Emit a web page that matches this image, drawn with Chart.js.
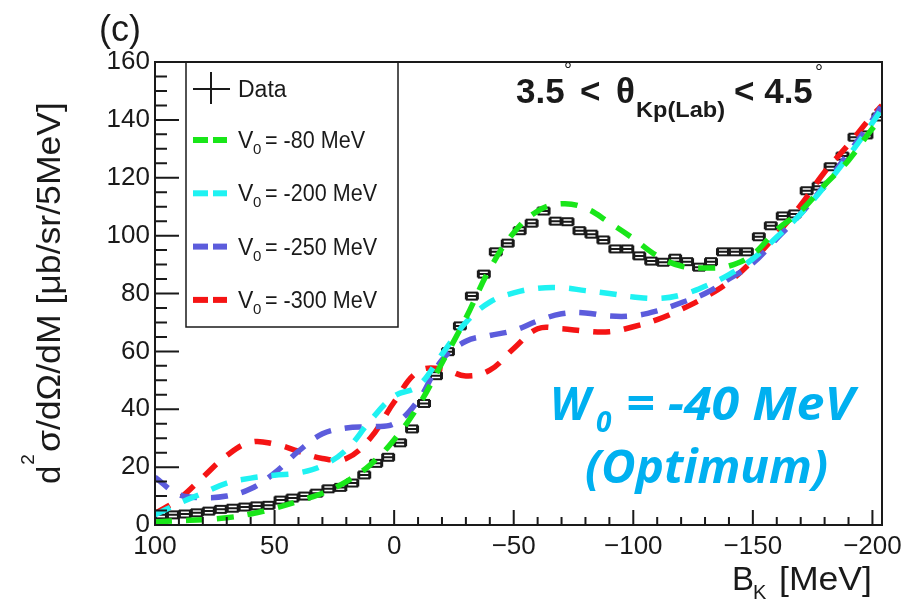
<!DOCTYPE html>
<html>
<head>
<meta charset="utf-8">
<script src="https://cdn.jsdelivr.net/npm/chart.js@4.4.1/dist/chart.umd.min.js"></script>
<style>
  html, body { margin: 0; padding: 0; background: #fff; }
  #wrap { width: 915px; height: 601px; position: relative; }
</style>
</head>
<body>
<div id="wrap"><canvas id="myChart" width="915" height="601"></canvas></div>
<script>
// tick labels
const xTicks = [100, 50, 0, -50, -100, -150, -200];
const yTicks = [0, 20, 40, 60, 80, 100, 120, 140, 160];

// data points (B_K bin centres, 5 MeV bins)
const dataX = [97.5, 92.5, 87.5, 82.5, 77.5, 72.5, 67.5, 62.5, 57.5, 52.5,
  47.5, 42.5, 37.5, 32.5, 27.5, 22.5, 17.5, 12.5, 7.5, 2.5,
  -2.5, -7.5, -12.5, -17.5, -22.5, -27.5, -32.5, -37.5, -42.5, -47.5,
  -52.5, -57.5, -62.5, -67.5, -72.5, -77.5, -82.5, -87.5, -92.5, -97.5,
  -102.5, -107.5, -112.5, -117.5, -122.5, -127.5, -132.5, -137.5, -142.5, -147.5,
  -152.5, -157.5, -162.5, -167.5, -172.5, -177.5, -182.5, -187.5, -192.5, -197.5, -202.5];
const dataY = [3.5, 3.5, 3.8, 4.2, 4.8, 5.4, 5.8, 6.2, 6.6, 6.8,
  8.6, 9.3, 10.0, 11.0, 12.5, 13.0, 14.5, 17.3, 21.3, 23.4,
  28.4, 33.2, 42.0, 51.6, 59.9, 68.8, 79.1, 86.7, 94.4, 97.4,
  101.7, 104.3, 108.5, 105.0, 104.8, 101.7, 100.5, 98.5, 95.4, 95.4,
  93.0, 91.2, 90.8, 92.2, 91.0, 89.1, 91.0, 94.4, 94.4, 94.4,
  99.6, 103.4, 106.8, 107.5, 115.5, 117.1, 123.8, 127.5, 134.0, 134.8, 141.0];

// model curves
const modelX = [100, 90, 80, 70, 60, 50, 40, 30, 20, 10, 0, -10, -20, -30, -40, -50,
  -60, -70, -80, -90, -100, -110, -120, -130, -140, -150, -160, -170, -180, -190, -200, -204];
const v80 = [1.0, 1.5, 1.8, 2.5, 3.8, 5.8, 8.2, 11.0, 15.0, 20.8, 29.5, 41, 56, 71.5, 88.5, 101,
  108.5, 111, 109.5, 104.5, 99, 93, 89.5, 88.8, 89.5, 93.5, 102, 108.5, 117.5, 126, 137, 140.5];
const v200 = [3.5, 7.5, 11.0, 14.5, 16.2, 17.2, 18.0, 20.5, 26, 36, 44.5, 48, 59, 70, 77, 80.2,
  81.8, 82, 81, 80, 78.8, 78.3, 79.5, 82.5, 86.5, 92, 99.5, 107.5, 117, 127.5, 139, 144];
const v250 = [16.5, 10.5, 9.5, 10.0, 12.5, 18, 25.5, 31.5, 33.5, 34, 35, 43, 57, 63.5, 65.5, 67.2,
  70.5, 73, 73.3, 72.2, 72.3, 74, 76.8, 80, 85, 90.5, 99, 107.5, 117.5, 128.5, 140, 145];
const v300 = [4, 9, 16.5, 24, 28.6, 28, 25.5, 23, 23, 30, 42.5, 53, 54, 51.5, 53.5, 61,
  67.8, 67.8, 67, 66.8, 68.5, 71, 74.5, 78.7, 84, 91.5, 100.5, 110.5, 122, 131.5, 141.5, 145];

const modelNames = ['-80', '-200', '-250', '-300'];
const modelColors = ['#19e619', '#1ff2f2', '#5c5cdc', '#f51414'];
const modelValues = [v80, v200, v250, v300];

const ink = '#1a1a1a';
const sans = '"Liberation Sans", Arial, sans-serif';
const note = '"Open Sans", sans-serif';

function toPoints(xs, ys) {
  return xs.map((x, i) => ({ x: x, y: ys[i] }));
}

const datasets = [{
  label: 'Data',
  data: toPoints(dataX, dataY),
  showLine: false,
  pointRadius: 0,
  borderColor: ink
}];
modelValues.forEach((vals, k) => {
  datasets.push({
    label: 'V0 = ' + modelNames[k] + ' MeV',
    data: toPoints(modelX, vals),
    showLine: true,
    borderColor: modelColors[k],
    borderWidth: 5.5,
    borderDash: [17, 14],
    pointRadius: 0,
    tension: 0.4,
    fill: false
  });
});

// text squeezed or stretched to a given width
function fitText(ctx, text, x, y, width) {
  const w = ctx.measureText(text).width;
  ctx.save();
  ctx.translate(x, y);
  ctx.scale(width / w, 1);
  ctx.fillText(text, 0, 0);
  ctx.restore();
}

// data markers: bin-width bar with caps and a small box, drawn under the curves
const dataMarks = {
  id: 'dataMarks',
  beforeDatasetsDraw(chart) {
    const { ctx, chartArea: a, scales: { x, y } } = chart;
    ctx.save();
    ctx.beginPath();
    ctx.rect(a.left, a.top, a.right - a.left, a.bottom - a.top);
    ctx.clip();
    ctx.strokeStyle = ink;
    ctx.lineWidth = 2;
    dataX.forEach((bx, i) => {
      const px = x.getPixelForValue(bx);
      const x0 = x.getPixelForValue(bx + 2.5);
      const x1 = x.getPixelForValue(bx - 2.5);
      const py = y.getPixelForValue(dataY[i]);
      ctx.beginPath();
      ctx.moveTo(x0, py); ctx.lineTo(x1, py);
      ctx.moveTo(x0, py - 3.5); ctx.lineTo(x0, py + 3.5);
      ctx.moveTo(x1, py - 3.5); ctx.lineTo(x1, py + 3.5);
      ctx.stroke();
      ctx.strokeRect(px - 5, py - 3.5, 10, 7);
    });
    ctx.restore();
  }
};

// frame, inner ticks, legend and texts
const decor = {
  id: 'decor',
  afterDraw(chart) {
    const { ctx, chartArea: a, scales: { x, y } } = chart;
    ctx.save();
    ctx.strokeStyle = ink;
    ctx.lineWidth = 2;
    ctx.strokeRect(a.left, a.top, a.right - a.left, a.bottom - a.top);

    // y ticks
    ctx.beginPath();
    for (let v = 0; v <= 160; v += 5) {
      const py = y.getPixelForValue(v);
      const len = v % 20 === 0 ? 24 : 12;
      ctx.moveTo(a.left, py); ctx.lineTo(a.left + len, py);
    }
    // x ticks
    for (let v = 100; v >= -200; v -= 10) {
      const px = x.getPixelForValue(v);
      const len = v % 50 === 0 ? 15 : 8;
      ctx.moveTo(px, a.bottom); ctx.lineTo(px, a.bottom - len);
    }
    ctx.stroke();

    // legend
    ctx.lineWidth = 1.5;
    ctx.strokeRect(186, 62, 212, 265);
    ctx.fillStyle = ink;
    ctx.lineWidth = 2;
    ctx.beginPath();
    ctx.moveTo(193, 89); ctx.lineTo(230, 89);
    ctx.moveTo(211, 72); ctx.lineTo(211, 104);
    ctx.stroke();
    ctx.font = '23px ' + sans;
    ctx.textBaseline = 'alphabetic';
    ctx.fillText('Data', 238, 97);
    modelNames.forEach((n, k) => {
      const cy = 140 + k * 53.3;
      ctx.fillStyle = modelColors[k];
      ctx.fillRect(193, cy - 3, 15, 6);
      ctx.fillRect(213, cy - 3, 14, 6);
      ctx.fillStyle = ink;
      ctx.font = '23px ' + sans;
      ctx.fillText('V', 238, cy + 8);
      ctx.font = '15px ' + sans;
      ctx.fillText('0', 253, cy + 14);
      ctx.font = '23px ' + sans;
      fitText(ctx, '= ' + n + ' MeV', 265, cy + 8, n.length > 3 ? 112 : 100);
    });

    // (c)
    ctx.font = '36px ' + sans;
    ctx.fillText('(c)', 99, 41);

    // angle range title
    ctx.font = 'bold 35px ' + sans;
    ctx.fillText('3.5', 516, 103);
    ctx.fillText('<', 580, 103);
    ctx.fillText('\u03b8', 616, 103);
    ctx.fillText('< 4.5', 734, 103);
    ctx.font = 'bold 22px ' + sans;
    fitText(ctx, 'Kp(Lab)', 636, 117, 89);
    ctx.font = '20px ' + sans;
    ctx.fillText('\u00b0', 564, 77);
    ctx.fillText('\u00b0', 815, 79);

    // y title
    ctx.save();
    ctx.translate(60, 484);
    ctx.rotate(-Math.PI / 2);
    ctx.font = '33px ' + sans;
    ctx.fillText('d', 0, 0);
    const wd = ctx.measureText('d').width;
    ctx.font = '19px ' + sans;
    ctx.fillText('2', wd + 1, -26);
    const w2 = ctx.measureText('2').width;
    ctx.font = '33px ' + sans;
    fitText(ctx, '\u03c3/d\u03a9/dM [\u03bcb/sr/5MeV]', wd + w2 + 3, 0, 382 - wd - w2 - 3);
    ctx.restore();

    // x title
    ctx.font = '33px ' + sans;
    ctx.fillText('B', 732, 590);
    ctx.font = '20px ' + sans;
    ctx.fillText('K', 753, 599);
    ctx.font = '33px ' + sans;
    fitText(ctx, '[MeV]', 779, 590, 93);

    // annotation
    ctx.fillStyle = '#00b0f0';
    ctx.font = 'italic bold 46px ' + note;
    fitText(ctx, 'W', 550, 420, 40);
    ctx.font = 'italic bold 28px ' + note;
    ctx.fillText('0', 596, 432);
    ctx.font = 'italic bold 46px ' + note;
    fitText(ctx, '= -40 MeV', 626, 420, 228);
    fitText(ctx, '(Optimum)', 585, 483, 243);
    ctx.restore();
  }
};

const ctx = document.getElementById('myChart').getContext('2d');
const myChart = new Chart(ctx, {
  type: 'scatter',
  data: { datasets: datasets },
  options: {
    responsive: false,
    animation: false,
    layout: { padding: { top: 62, right: 33, left: 0, bottom: 0 } },
    plugins: { legend: { display: false }, tooltip: { enabled: false } },
    scales: {
      x: {
        type: 'linear',
        reverse: true,
        min: -204,
        max: 100,
        afterBuildTicks: (ax) => { ax.ticks = xTicks.map(v => ({ value: v })); },
        afterFit: (ax) => { ax.height = 76; },
        grid: { display: false, drawTicks: false },
        border: { display: false },
        ticks: {
          color: ink,
          padding: 6,
          maxRotation: 0,
          font: { family: sans, size: 26 },
          callback: (v) => String(v).replace('-', '\u2212')
        }
      },
      y: {
        min: 0,
        max: 160,
        afterBuildTicks: (ax) => { ax.ticks = yTicks.map(v => ({ value: v })); },
        afterFit: (ax) => { ax.width = 155; },
        grid: { display: false, drawTicks: false },
        border: { display: false },
        ticks: {
          color: ink,
          padding: 5,
          font: { family: sans, size: 26 }
        }
      }
    }
  },
  plugins: [dataMarks, decor]
});
</script>
</body>
</html>
